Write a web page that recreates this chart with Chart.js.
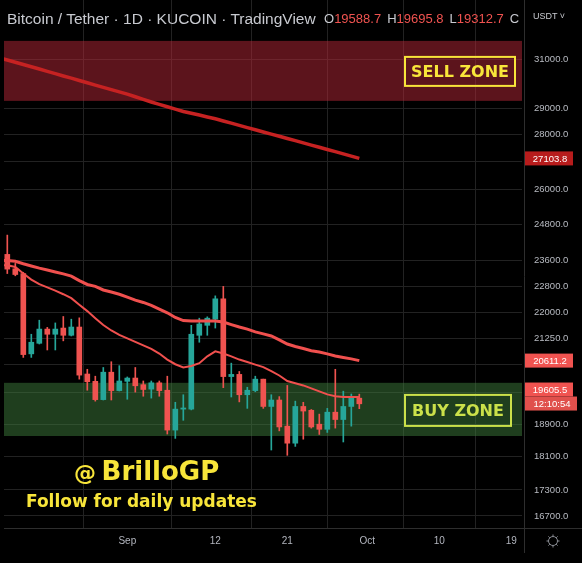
<!DOCTYPE html>
<html><head><meta charset="utf-8">
<script src="https://cdn.jsdelivr.net/npm/chart.js@4.4.1/dist/chart.umd.min.js"></script>
<style>
html,body{margin:0;padding:0;background:#000;width:582px;height:563px;overflow:hidden;}
#wrap{position:relative;width:582px;height:563px;}
#c{position:absolute;left:0;top:0;}
.hdr{position:absolute;left:7px;top:11px;font-family:"Liberation Sans",Arial,sans-serif;font-size:15.5px;color:#c8cad0;white-space:nowrap;line-height:16px;}
.ohlc{position:absolute;left:324px;top:12px;font-family:"Liberation Sans",Arial,sans-serif;font-size:13px;color:#c8cad0;white-space:nowrap;line-height:14px;width:196px;overflow:hidden;}
.ohlc span.r{color:#f05350;margin-right:6px;}
.cur{position:absolute;left:533px;top:11px;font-family:"Liberation Sans",Arial,sans-serif;font-size:9px;color:#c8cad0;white-space:nowrap;}
.wm1{position:absolute;left:74px;top:457px;font-family:"DejaVu Sans",sans-serif;font-weight:bold;color:#f8e53a;white-space:nowrap;line-height:28px;}
.wm1 .at{font-size:22px;}
.wm1 .nm{font-size:26px;}
.wm2{position:absolute;left:26px;top:491px;font-family:"DejaVu Sans",sans-serif;font-weight:bold;font-size:17px;color:#f8e53a;white-space:nowrap;line-height:20px;}
</style></head>
<body><div id="wrap">
<canvas id="c" width="582" height="563"></canvas>
<div class="hdr">Bitcoin / Tether · 1D · KUCOIN · TradingView</div>
<div class="ohlc">O<span class="r">19588.7</span>H<span class="r">19695.8</span>L<span class="r">19312.7</span>C</div>
<div class="cur">USDT ˅</div>
<div class="wm1"><span class="at">@</span> <span class="nm">BrilloGP</span></div>
<div class="wm2">Follow for daily updates</div>
</div>
<script>
// ---- data (index 0 = 2022-08-16, off-screen edge) ----
const dates = ['2022-08-16','2022-08-17','2022-08-18','2022-08-19','2022-08-20','2022-08-21','2022-08-22','2022-08-23','2022-08-24','2022-08-25','2022-08-26','2022-08-27','2022-08-28','2022-08-29','2022-08-30','2022-08-31','2022-09-01','2022-09-02','2022-09-03','2022-09-04','2022-09-05','2022-09-06','2022-09-07','2022-09-08','2022-09-09','2022-09-10','2022-09-11','2022-09-12','2022-09-13','2022-09-14','2022-09-15','2022-09-16','2022-09-17','2022-09-18','2022-09-19','2022-09-20','2022-09-21','2022-09-22','2022-09-23','2022-09-24','2022-09-25','2022-09-26','2022-09-27','2022-09-28','2022-09-29','2022-09-30'];
const opens  = [null,23800,23340,23190,20800,21100,21510,21360,21540,21330,21570,20240,20040,19550,20290,19790,20040,20130,19950,19830,20000,19800,18760,19300,19300,21330,21620,21800,22410,20170,20230,19680,19790,20100,19370,19540,18860,18430,19370,19270,18910,18780,19220,19030,19370,19588.7];
const highs  = [null,24430,23510,23230,21360,21770,21560,21690,21880,21800,21840,20370,20180,20420,20580,20470,20160,20420,20050,20050,20050,20180,19480,19680,21620,21830,21870,22500,22790,20540,20310,19880,20180,20100,19680,19630,19930,19510,19480,19290,19170,19320,20370,19775,19700,19695.8];
const lows   = [null,23190,23120,20700,20700,21080,20910,20910,21170,21310,20100,19800,19510,19540,19540,19780,19560,19750,19640,19590,19640,18660,18550,19010,19280,21130,21330,21540,19870,19620,19490,19320,19760,19320,18260,18740,18130,18350,18530,18810,18650,18700,18810,18460,18860,19312.7];
const closes = [null,23330,23160,20780,21130,21510,21360,21510,21330,21570,20210,20030,19550,20290,19790,20050,20130,19920,19820,20000,19790,18760,19300,19330,21360,21660,21830,22410,20170,20230,19680,19800,20100,19370,19540,18840,18430,19370,19250,18840,18780,19220,19030,19370,19590,19440];
const maSlow = [31060,30970,30874,30778,30687,30591,30496,30401,30306,30216,30122,30029,29935,29842,29749,29661,29568,29464,29360,29257,29162,29068,28977,28883,28813,28743,28669,28599,28514,28429,28344,28260,28176,28092,28012,27929,27846,27763,27680,27598,27516,27434,27353,27271,27190,27103.8];
const maMid  = [23610,23600,23580,23500,23430,23360,23300,23240,23180,23110,22970,22850,22790,22680,22620,22550,22460,22370,22300,22210,22100,21990,21850,21760,21745,21745,21745,21745,21715,21640,21570,21510,21430,21370,21310,21200,21080,21010,20950,20890,20850,20800,20740,20700,20660,20611.2];
const maFast = [23460,23450,23400,23190,23000,22860,22760,22660,22550,22430,22230,22040,21830,21630,21470,21340,21240,21140,21040,20940,20810,20640,20510,20420,20460,20540,20730,20870,20810,20730,20640,20570,20500,20430,20320,20200,20050,19990,19930,19850,19770,19690,19640,19620,19620,19620];
const sellZone = [29300, 31780];
const buyZone  = [18610, 20000];
const priceTicks = [31000,29000,28000,27000,26000,24800,23600,22800,22000,21250,20500,19750,18900,18100,17300,16700];
const timeTicks = [16,27,36,46,55,64];
const timeTickLabels = ['Sep','12','21','Oct','10','19'];
const lastSlow = 27103.8, lastMid = 20611.2, lastPrice = 19605.5, countdown = '12:10:54';

const GREEN = '#26a69a', RED = '#ef5350';
const idx = dates.map((d,i)=>i).filter(i=>opens[i]!==null);
const bodyData = idx.map(i=>({x:i, y:[opens[i], closes[i]]}));
const wickData = idx.map(i=>({x:i, y:[lows[i], highs[i]]}));
const candleCol = idx.map(i=> closes[i] >= opens[i] ? GREEN : RED);
const lineData = arr => arr.map((v,i)=>({x:i, y:v}));
const gridC = '#222222';

const zonesPlugin = {
  id:'zones',
  beforeDatasetsDraw(chart){
    const {ctx, chartArea:a, scales:{y}} = chart;
    ctx.save();
    const sTop = y.getPixelForValue(sellZone[1]), sBot = y.getPixelForValue(sellZone[0]);
    ctx.fillStyle = 'rgba(184,40,56,0.5)';
    ctx.fillRect(a.left, sTop, a.right-a.left, sBot-sTop);
    const bTop = y.getPixelForValue(buyZone[1]), bBot = y.getPixelForValue(buyZone[0]);
    ctx.fillStyle = 'rgba(62,124,60,0.5)';
    ctx.fillRect(a.left, bTop, a.right-a.left, bBot-bTop);
    // zone labels
    ctx.font = 'bold 16px "DejaVu Sans"';
    ctx.textAlign = 'center'; ctx.textBaseline = 'middle';
    let cy = (sTop+sBot)/2 + 0.5, r = a.right - 7, w = 110, h = 29;
    ctx.strokeStyle = '#f8e53a'; ctx.lineWidth = 2;
    ctx.strokeRect(r-w, cy-h/2, w, h);
    ctx.fillStyle = '#f8e53a'; ctx.fillText('SELL ZONE', r-w/2, cy+1);
    cy = (bTop+bBot)/2 + 1; r = a.right - 11; w = 106; h = 31;
    ctx.strokeStyle = '#cbe04a';
    ctx.strokeRect(r-w, cy-h/2, w, h);
    ctx.fillStyle = '#cbe04a'; ctx.fillText('BUY ZONE', r-w/2, cy+1);
    ctx.restore();
  },
  afterDraw(chart){
    const {ctx, chartArea:a, scales:{y}} = chart;
    ctx.save();
    // axis separators
    ctx.strokeStyle = '#2e2e2e'; ctx.lineWidth = 1;
    ctx.beginPath(); ctx.moveTo(a.left, a.bottom+0.5); ctx.lineTo(582, a.bottom+0.5); ctx.stroke();
    ctx.beginPath(); ctx.moveTo(a.right+2.5, 0); ctx.lineTo(a.right+2.5, 553); ctx.stroke();
    // price labels
    ctx.font = '9.5px "Liberation Sans"';
    ctx.textAlign = 'center'; ctx.textBaseline = 'middle';
    const box = (text, cy, bg, w) => {
      ctx.fillStyle = bg; ctx.fillRect(a.right+3, cy-7, w, 14);
      ctx.fillStyle = '#ffffff'; ctx.fillText(text, a.right+3+w/2 + 1, cy+0.5);
    };
    box(lastSlow.toFixed(1), y.getPixelForValue(lastSlow), '#b71c1c', 48);
    box(lastMid.toFixed(1), y.getPixelForValue(lastMid), '#f05350', 48);
    const py = y.getPixelForValue(lastPrice);
    box(lastPrice.toFixed(1), py-8, '#f05350', 48);
    box(countdown, py+6, '#e0504c', 52);
    // gear icon
    const gx = 553, gy = 541;
    ctx.strokeStyle = '#8a8d94'; ctx.lineWidth = 1;
    ctx.beginPath(); ctx.arc(gx, gy, 4.5, 0, Math.PI*2); ctx.stroke();
    for (let k=0;k<8;k++){ const t=k*Math.PI/4; ctx.beginPath(); ctx.moveTo(gx+Math.cos(t)*4.5, gy+Math.sin(t)*4.5); ctx.lineTo(gx+Math.cos(t)*6.5, gy+Math.sin(t)*6.5); ctx.stroke(); }
    ctx.restore();
  }
};

new Chart(document.getElementById('c'), {
  type:'bar',
  data:{ datasets:[
    {type:'line', data:lineData(maSlow), borderColor:'#c62222', borderWidth:3.5, pointRadius:0, tension:0, order:0, clip:0},
    {type:'line', data:lineData(maMid), borderColor:'#f0504e', borderWidth:3, pointRadius:0, tension:0, order:0, clip:0},
    {type:'line', data:lineData(maFast), borderColor:'#f0504e', borderWidth:2, pointRadius:0, tension:0, order:0, clip:0},
    {type:'bar', data:bodyData, backgroundColor:candleCol, barThickness:5, grouped:false, order:1, clip:0, minBarLength:1},
    {type:'bar', data:wickData, backgroundColor:candleCol, barThickness:1, grouped:false, order:2, clip:0}
  ]},
  options:{
    responsive:false, animation:false, devicePixelRatio:1,
    layout:{padding:{left:4, top:0, right:0, bottom:0}},
    plugins:{legend:{display:false}, tooltip:{enabled:false}},
    scales:{
      x:{type:'linear', min:0.5875, max:65.3375, offset:false,
        grid:{color:gridC, drawTicks:false}, border:{display:false},
        ticks:{color:'#b2b5be', font:{family:'Liberation Sans', size:10}, padding:7, maxRotation:0, autoSkip:false,
          callback:(v)=>{const k=timeTicks.indexOf(v); return k>=0?timeTickLabels[k]:'';}},
        afterBuildTicks:(s)=>{ s.ticks = timeTicks.map(v=>({value:v})); },
        afterFit:(s)=>{ s.height = 35; s.paddingLeft = 0; s.paddingRight = 0; }
      },
      y:{type:'logarithmic', position:'right', min:16430, max:33590,
        grid:{color:gridC, drawTicks:false}, border:{display:false},
        ticks:{color:'#b8bbc2', font:{family:'Liberation Sans', size:9.5}, padding:12, autoSkip:false,
          callback:(v)=>Number(v).toFixed(1)},
        afterBuildTicks:(s)=>{ s.ticks = priceTicks.map(v=>({value:v})); },
        afterFit:(s)=>{ s.width = 60; s.paddingTop = 0; s.paddingBottom = 0; }
      }
    }
  },
  plugins:[zonesPlugin]
});
</script>
</body></html>
